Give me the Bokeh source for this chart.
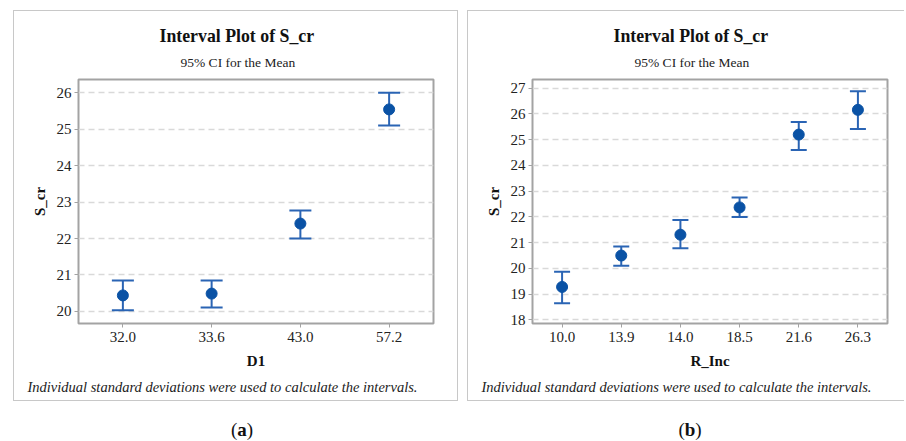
from bokeh.plotting import figure
from bokeh.models import (ColumnDataSource, Range1d, FactorRange, Whisker, TeeHead,
                          Title, FixedTicker, Div)
from bokeh.layouts import row, column
from bokeh.embed import file_html
from bokeh.resources import INLINE

# ---- data ----
d1_labels = ["32.0", "33.6", "43.0", "57.2"]
d1_mean = [20.44, 20.49, 22.41, 25.54]
d1_lower = [20.03, 20.11, 22.00, 25.10]
d1_upper = [20.85, 20.85, 22.77, 26.00]
d1_yticks = [20, 21, 22, 23, 24, 25, 26]

r_labels = ["10.0", "13.9", "14.0", "18.5", "21.6", "26.3"]
r_mean = [19.28, 20.50, 21.31, 22.37, 25.20, 26.16]
r_lower = [18.65, 20.10, 20.78, 22.00, 24.60, 25.42]
r_upper = [19.87, 20.85, 21.88, 22.76, 25.69, 26.88]
r_yticks = [18, 19, 20, 21, 22, 23, 24, 25, 26, 27]

title_text = "Interval Plot of S_cr"
subtitle_text = "95% CI for the Mean"
foot_text = "Individual standard deviations were used to calculate the intervals."

SERIF = "Liberation Serif"
BLUE_DOT = "#0a52a5"
BLUE_LINE = "#2a64b4"


def panel(labels, mean, lower, upper, yticks, yrange, xlabel,
          width, mb_right, border_css, margin, cap_w):
    src = ColumnDataSource(dict(x=labels, y=mean, lower=lower, upper=upper))
    p = figure(width=width, height=391, output_backend="svg", toolbar_location=None,
               x_range=FactorRange(*labels), y_range=Range1d(*yrange),
               min_border_left=64, min_border_right=mb_right,
               min_border_top=68, min_border_bottom=79,
               styles=border_css, margin=margin)
    p.outline_line_color = "#a3a3a3"
    p.outline_line_width = 2
    p.background_fill_color = "white"
    p.border_fill_color = "white"

    p.xgrid.grid_line_color = None
    p.ygrid.grid_line_color = "#d9d9d9"
    p.ygrid.grid_line_width = 1.5
    p.ygrid.grid_line_dash = "6 4"
    p.yaxis.ticker = FixedTicker(ticks=yticks)

    for ax in (p.xaxis[0], p.yaxis[0]):
        ax.axis_line_color = None
        ax.major_tick_line_color = "#a3a3a3"
        ax.major_tick_out = 4
        ax.major_tick_in = 0
        ax.minor_tick_line_color = None
        ax.major_label_text_font = SERIF
        ax.major_label_text_font_size = "15px"
        ax.major_label_text_color = "#222222"
        ax.axis_label_text_font = SERIF
        ax.axis_label_text_font_size = "15px"
        ax.axis_label_text_font_style = "bold"
        ax.axis_label_text_color = "#111111"
    p.xaxis.major_label_standoff = 4
    p.yaxis.major_label_standoff = 3
    p.xaxis.axis_label = xlabel
    p.yaxis.axis_label = "S_cr"
    p.xaxis.axis_label_standoff = 8
    p.yaxis.axis_label_standoff = 6

    head = dict(size=cap_w, line_color=BLUE_LINE, line_width=2)
    w = Whisker(source=src, base="x", lower="lower", upper="upper", dimension="height",
                line_color=BLUE_LINE, line_width=2, level="underlay",
                upper_head=TeeHead(**head), lower_head=TeeHead(**head))
    p.add_layout(w)
    p.scatter("x", "y", source=src, size=11, color=BLUE_DOT)

    # titles above: subtitle closest to the frame, then the main title
    p.add_layout(Title(text=subtitle_text, align="left", offset=102, text_font=SERIF,
                       text_font_size="13.5px", text_font_style="normal",
                       text_color="#222222", standoff=20), "above")
    p.add_layout(Title(text=title_text, align="left", offset=81, text_font=SERIF,
                       text_font_size="17.8px", text_font_style="bold",
                       text_color="#111111", standoff=-7), "above")
    # footnote below the x axis
    p.add_layout(Title(text=foot_text, align="left", offset=-51, text_font=SERIF,
                       text_font_size="14.5px", text_font_style="italic",
                       text_color="#222222", standoff=10), "below")
    return p


border_left_css = {"border": "1.5px solid #c8c8c8"}
border_right_css = {"border": "1.5px solid #c8c8c8", "border-right": "none"}

p1 = panel(d1_labels, d1_mean, d1_lower, d1_upper, d1_yticks, (19.67, 26.36), "D1",
           445, 26, border_left_css, (10, 0, 0, 13), 22)
p2 = panel(r_labels, r_mean, r_lower, r_upper, r_yticks, (17.86, 27.34), "R_Inc",
           437, 18, border_right_css, (10, 0, 0, 9), 16)

cap_style = {"font-family": "Liberation Serif", "font-size": "19px", "text-align": "center",
             "line-height": "18px", "color": "#111111", "width": "100%"}
c1 = Div(text="(<b>a</b>)", width=446, height=18, styles=cap_style, margin=(20, 0, 0, 13))
c2 = Div(text="(<b>b</b>)", width=438, height=18, styles=cap_style, margin=(20, 0, 0, 9))

layout = row(column(p1, c1, spacing=0), column(p2, c2, spacing=0), spacing=0)
open("out.html", "w").write(file_html(layout, INLINE))
